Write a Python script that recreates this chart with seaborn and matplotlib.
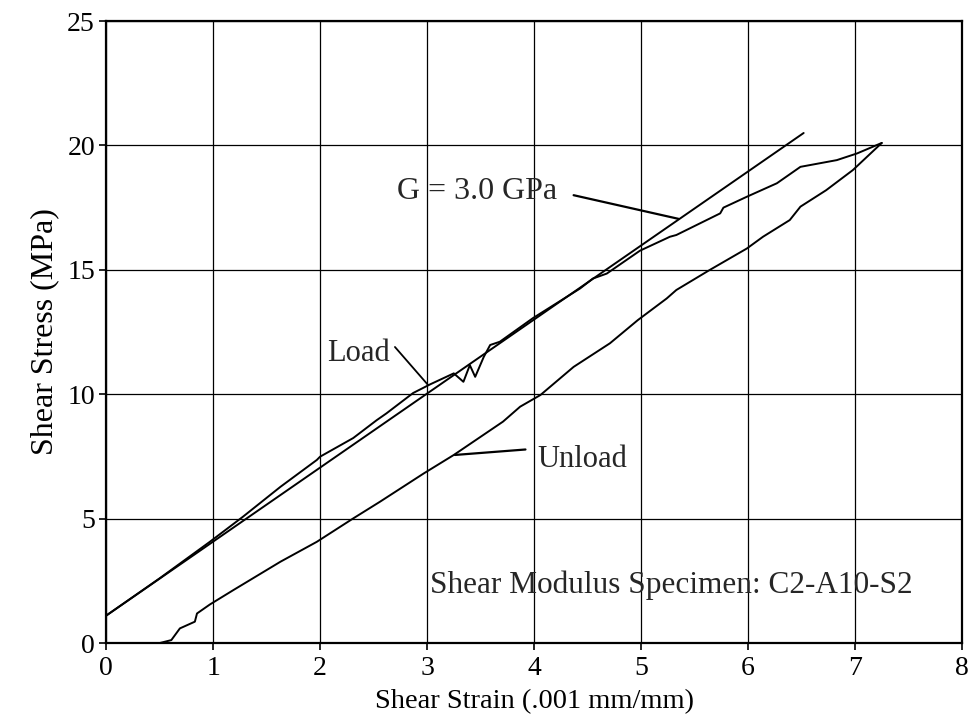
import matplotlib
matplotlib.use("Agg")
import matplotlib.pyplot as plt
import seaborn as sns
import pandas as pd

# ---- data ----
load_x = [0.0, 0.5, 0.97, 1.28, 1.63, 1.97, 2.0, 2.31, 2.53, 2.62, 2.87, 3.03,
          3.25, 3.34, 3.40, 3.45, 3.53, 3.59, 3.68, 3.99, 4.43, 4.55, 4.68,
          4.99, 5.27, 5.33, 5.74, 5.77, 5.99, 6.27, 6.49, 6.83, 7.02, 7.25]
load_y = [1.1, 2.6, 4.07, 5.08, 6.28, 7.36, 7.49, 8.24, 8.96, 9.23, 10.05, 10.4,
          10.84, 10.5, 11.17, 10.7, 11.5, 11.98, 12.11, 13.06, 14.25, 14.65, 14.85,
          15.77, 16.33, 16.4, 17.27, 17.5, 17.94, 18.48, 19.14, 19.41, 19.68, 20.1]

unload_x = [7.25, 6.98, 6.73, 6.49, 6.39, 6.14, 5.99, 5.64, 5.33, 5.24, 4.97,
            4.71, 4.37, 4.06, 3.87, 3.71, 3.25, 2.97, 2.56, 2.31, 1.97, 1.63,
            1.19, 0.97, 0.85, 0.83, 0.69, 0.61, 0.5]
unload_y = [20.1, 19.01, 18.2, 17.54, 17.0, 16.33, 15.86, 14.99, 14.19, 13.85, 12.98,
            12.05, 11.1, 9.97, 9.5, 8.9, 7.56, 6.82, 5.68, 5.01, 4.07, 3.27,
            2.13, 1.55, 1.19, 0.86, 0.59, 0.12, 0.0]

fit_x = [0.0, 6.52]
fit_y = [1.1, 20.5]

x_ticks = [0, 1, 2, 3, 4, 5, 6, 7, 8]
y_ticks = [0, 5, 10, 15, 20, 25]

sns.set_style("white")
plt.rcParams['font.family'] = ['Liberation Serif', 'DejaVu Serif']

fig = plt.figure(figsize=(9.73, 7.25), dpi=100)
ax = fig.add_axes([0.109, 0.113, 0.8797, 0.858])

lw = 1.4
sns.lineplot(x=load_x, y=load_y, sort=False, estimator=None, color='black', lw=lw, ax=ax)
sns.lineplot(x=unload_x, y=unload_y, sort=False, estimator=None, color='black', lw=lw, ax=ax)
sns.lineplot(x=fit_x, y=fit_y, sort=False, estimator=None, color='black', lw=lw, ax=ax)

ax.set_xlim(0, 8)
ax.set_ylim(0, 25)
ax.set_xticks(x_ticks)
ax.set_yticks(y_ticks)
ax.set_xticklabels([str(t) for t in x_ticks])
ax.set_yticklabels([str(t) for t in y_ticks])
ax.grid(True, color='black', lw=0.9)
ax.set_axisbelow(True)
for s in ax.spines.values():
    s.set_color('black')
    s.set_linewidth(1.6)
ax.tick_params(axis='both', direction='out', length=5, width=1.2, color='black',
               labelsize=20, labelcolor='black', bottom=True, left=True)
ax.tick_params(axis='x', pad=4)
ax.tick_params(axis='y', pad=3)

ax.set_xlabel("Shear Strain (.001 mm/mm)", fontsize=20.5, color='black', labelpad=6)
ax.set_ylabel("Shear Stress (MPa)", fontsize=23, color='black', labelpad=6)

# annotations
ax.text(4.22, 17.85, "G = 3.0 GPa", fontsize=23, ha='right', va='baseline')
ax.plot([4.37, 5.35], [18.0, 17.05], color='black', lw=1.6)
ax.text(2.07, 11.33, "Load", fontsize=22, ha='left', va='baseline')
ax.plot([2.7, 3.01], [11.9, 10.37], color='black', lw=1.3)
ax.text(4.03, 7.07, "Unload", fontsize=22, ha='left', va='baseline')
ax.plot([3.92, 3.26], [7.78, 7.56], color='black', lw=1.6)
ax.text(7.54, 2.0, "Shear Modulus Specimen: C2-A10-S2", fontsize=22.5,
        ha='right', va='baseline')

fig.savefig("out.png", dpi=100)
